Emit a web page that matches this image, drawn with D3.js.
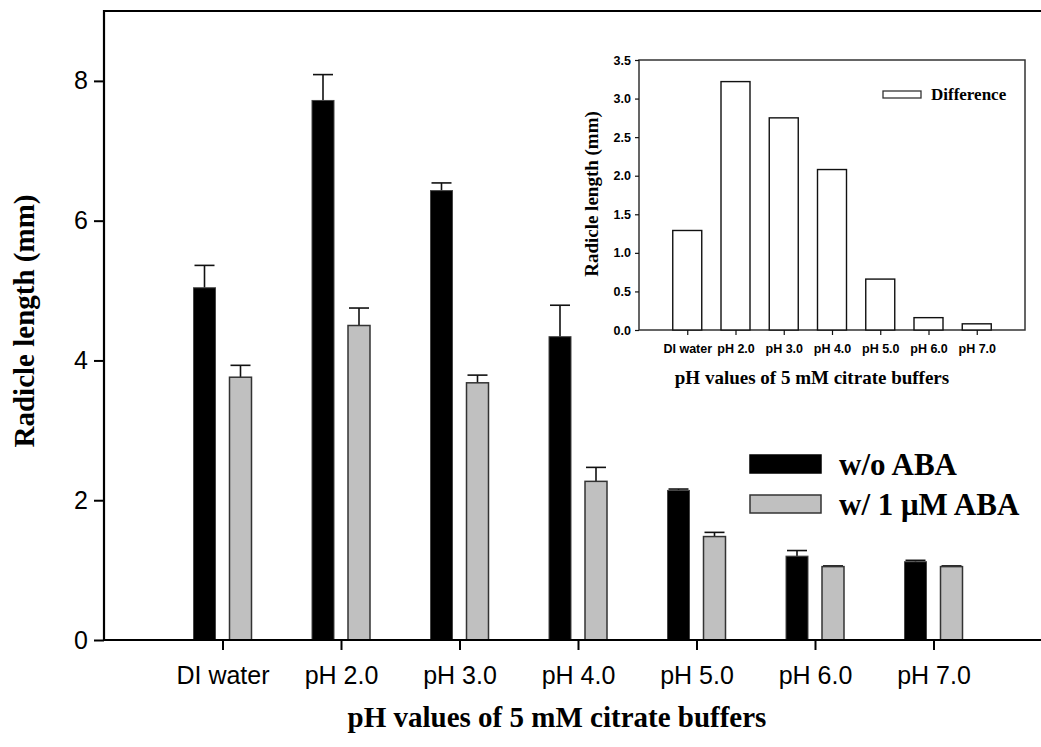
<!DOCTYPE html>
<html>
<head>
<meta charset="utf-8">
<script src="https://cdn.jsdelivr.net/npm/d3@7"></script>
<style>
  body { margin: 0; background: #fff; }
  svg { display: block; }
</style>
</head>
<body>
<script>
// data
var categories = ["DI water", "pH 2.0", "pH 3.0", "pH 4.0", "pH 5.0", "pH 6.0", "pH 7.0"];
var noAba = [5.04, 7.72, 6.43, 4.34, 2.14, 1.20, 1.12];
var noAbaErr = [0.32, 0.37, 0.11, 0.45, 0.02, 0.08, 0.02];
var withAba = [3.76, 4.50, 3.68, 2.27, 1.48, 1.05, 1.05];
var withAbaErr = [0.17, 0.25, 0.11, 0.20, 0.06, 0.01, 0.01];
var difference = [1.29, 3.22, 2.75, 2.08, 0.66, 0.16, 0.08];
var mainTicks = [0, 2, 4, 6, 8];
var insetTicks = [0, 0.5, 1.0, 1.5, 2.0, 2.5, 3.0, 3.5];
var seriesNames = ["w/o ABA", "w/ 1 \u03bcM ABA"];

var W = 1041, H = 747;

var svg = d3.select("body").append("svg")
    .attr("width", W)
    .attr("height", H);

// ---------------- main chart ----------------
var mLeft = 104, mTop = 11, mBottom = 640;

var x = d3.scaleLinear().domain([0, 8]).range([mLeft, mLeft + 8 * 118.5]);
var y = d3.scaleLinear().domain([0, 9]).range([mBottom, mTop]);

var barW = 22, off = 18;

var rows = categories.map(function(c, i) {
  return {cat: c, i: i + 1, a: noAba[i], ae: noAbaErr[i], b: withAba[i], be: withAbaErr[i]};
});

// error bars first so the bar covers the lower stub
var errs = [];
rows.forEach(function(d) {
  errs.push({cx: x(d.i) - off, v: d.a, e: d.ae});
  errs.push({cx: x(d.i) + off, v: d.b, e: d.be});
});

svg.append("g").selectAll("g")
    .data(errs)
  .enter().append("g")
    .each(function(d) {
      var g = d3.select(this);
      g.append("line")
        .attr("x1", d.cx).attr("x2", d.cx)
        .attr("y1", y(d.v)).attr("y2", y(d.v + d.e))
        .attr("stroke", "#111").attr("stroke-width", 1.6);
      g.append("line")
        .attr("x1", d.cx - 10).attr("x2", d.cx + 10)
        .attr("y1", y(d.v + d.e)).attr("y2", y(d.v + d.e))
        .attr("stroke", "#111").attr("stroke-width", 1.6);
    });

svg.append("g").selectAll("rect")
    .data(rows)
  .enter().append("rect")
    .attr("x", function(d) { return x(d.i) - off - barW / 2; })
    .attr("y", function(d) { return y(d.a); })
    .attr("width", barW)
    .attr("height", function(d) { return mBottom - y(d.a); })
    .attr("fill", "#000")
    .attr("stroke", "#444")
    .attr("stroke-width", 1);

svg.append("g").selectAll("rect")
    .data(rows)
  .enter().append("rect")
    .attr("x", function(d) { return x(d.i) + off - barW / 2; })
    .attr("y", function(d) { return y(d.b); })
    .attr("width", barW)
    .attr("height", function(d) { return mBottom - y(d.b); })
    .attr("fill", "#c0c0c0")
    .attr("stroke", "#333")
    .attr("stroke-width", 1.5);

// axes
var yAxis = d3.axisLeft(y).tickValues(mainTicks).tickSize(10).tickPadding(6).tickFormat(d3.format("d"));
svg.append("g")
    .attr("transform", "translate(" + mLeft + ",0)")
    .call(yAxis)
    .call(function(g) {
      g.select(".domain").remove();
      g.selectAll("line").attr("stroke", "#000").attr("stroke-width", 2);
      g.selectAll("text").attr("font-family", "Liberation Sans, Arial, sans-serif")
        .attr("font-size", 25).attr("fill", "#000");
    });

var xAxis = d3.axisBottom(x).tickValues(d3.range(1, 8)).tickSize(10).tickPadding(16)
    .tickFormat(function(d) { return categories[d - 1]; });
svg.append("g")
    .attr("transform", "translate(0," + mBottom + ")")
    .call(xAxis)
    .call(function(g) {
      g.select(".domain").remove();
      g.selectAll("line").attr("stroke", "#000").attr("stroke-width", 2);
      g.selectAll("text").attr("font-family", "Liberation Sans, Arial, sans-serif")
        .attr("font-size", 25).attr("fill", "#000");
    });

// frame: left, top, bottom (right side runs off the picture)
svg.append("path")
    .attr("d", "M" + (W + 5) + "," + mTop + "H" + mLeft + "V" + mBottom + "H" + (W + 5))
    .attr("fill", "none")
    .attr("stroke", "#000")
    .attr("stroke-width", 2.2);

svg.append("text")
    .text("pH values of 5 mM citrate buffers")
    .attr("x", 557).attr("y", 727)
    .attr("text-anchor", "middle")
    .attr("font-family", "Liberation Serif, Times New Roman, serif")
    .attr("font-weight", "bold")
    .attr("font-size", 29);

svg.append("text")
    .text("Radicle length (mm)")
    .attr("transform", "translate(34,321) rotate(-90)")
    .attr("text-anchor", "middle")
    .attr("font-family", "Liberation Serif, Times New Roman, serif")
    .attr("font-weight", "bold")
    .attr("font-size", 29);

// legend
var legend = svg.append("g");
var legFill = ["#000", "#c0c0c0"];
var legY = [455, 495];
seriesNames.forEach(function(name, i) {
  legend.append("rect")
    .attr("x", 750).attr("y", legY[i])
    .attr("width", 71).attr("height", 18)
    .attr("fill", legFill[i])
    .attr("stroke", i == 0 ? "#000" : "#333")
    .attr("stroke-width", 1.5);
  legend.append("text")
    .text(name)
    .attr("x", 839).attr("y", legY[i] + 20)
    .attr("font-family", "Liberation Serif, Times New Roman, serif")
    .attr("font-weight", "bold")
    .attr("font-size", 31);
});

// ---------------- inset ----------------
var iL = 639, iR = 1025, iT = 60, iB = 330;
var ix = d3.scaleLinear().domain([0, 8]).range([iL, iR]);
var iy = d3.scaleLinear().domain([0, 3.5]).range([iB, iT]);

var inset = svg.append("g");

inset.append("rect")
    .attr("x", iL).attr("y", iT)
    .attr("width", iR - iL).attr("height", iB - iT)
    .attr("fill", "#fff")
    .attr("stroke", "#333")
    .attr("stroke-width", 1.5);

inset.selectAll(".dbar")
    .data(difference)
  .enter().append("rect")
    .attr("class", "dbar")
    .attr("x", function(d, i) { return ix(i + 1) - 14.5; })
    .attr("y", function(d) { return iy(d); })
    .attr("width", 29)
    .attr("height", function(d) { return iB - iy(d); })
    .attr("fill", "#fff")
    .attr("stroke", "#111")
    .attr("stroke-width", 1.4);

inset.append("g")
    .attr("transform", "translate(" + iL + ",0)")
    .call(d3.axisLeft(iy).tickValues(insetTicks).tickSize(4).tickPadding(4).tickFormat(d3.format(".1f")))
    .call(function(g) {
      g.select(".domain").remove();
      g.selectAll("line").attr("stroke", "#111").attr("stroke-width", 1.2);
      g.selectAll("text").attr("font-family", "Liberation Sans, Arial, sans-serif")
        .attr("font-weight", "bold").attr("font-size", 12.5).attr("fill", "#000");
    });

inset.append("g")
    .attr("transform", "translate(0," + iB + ")")
    .call(d3.axisBottom(ix).tickValues(d3.range(1, 8)).tickSize(5).tickPadding(9)
      .tickFormat(function(d) { return categories[d - 1]; }))
    .call(function(g) {
      g.select(".domain").remove();
      g.selectAll("line").attr("stroke", "#111").attr("stroke-width", 1.2);
      g.selectAll("text").attr("font-family", "Liberation Sans, Arial, sans-serif")
        .attr("font-weight", "bold").attr("font-size", 12.5).attr("fill", "#000");
    });

inset.append("text")
    .text("pH values of 5 mM citrate buffers")
    .attr("x", 812).attr("y", 384)
    .attr("text-anchor", "middle")
    .attr("font-family", "Liberation Serif, Times New Roman, serif")
    .attr("font-weight", "bold")
    .attr("font-size", 19);

inset.append("text")
    .text("Radicle length (mm)")
    .attr("transform", "translate(598,194) rotate(-90)")
    .attr("text-anchor", "middle")
    .attr("font-family", "Liberation Serif, Times New Roman, serif")
    .attr("font-weight", "bold")
    .attr("font-size", 19);

inset.append("rect")
    .attr("x", 883).attr("y", 91)
    .attr("width", 38).attr("height", 7)
    .attr("fill", "#fff")
    .attr("stroke", "#333")
    .attr("stroke-width", 1.3);

inset.append("text")
    .text("Difference")
    .attr("x", 931).attr("y", 100)
    .attr("font-family", "Liberation Serif, Times New Roman, serif")
    .attr("font-weight", "bold")
    .attr("font-size", 17);
</script>
</body>
</html>
